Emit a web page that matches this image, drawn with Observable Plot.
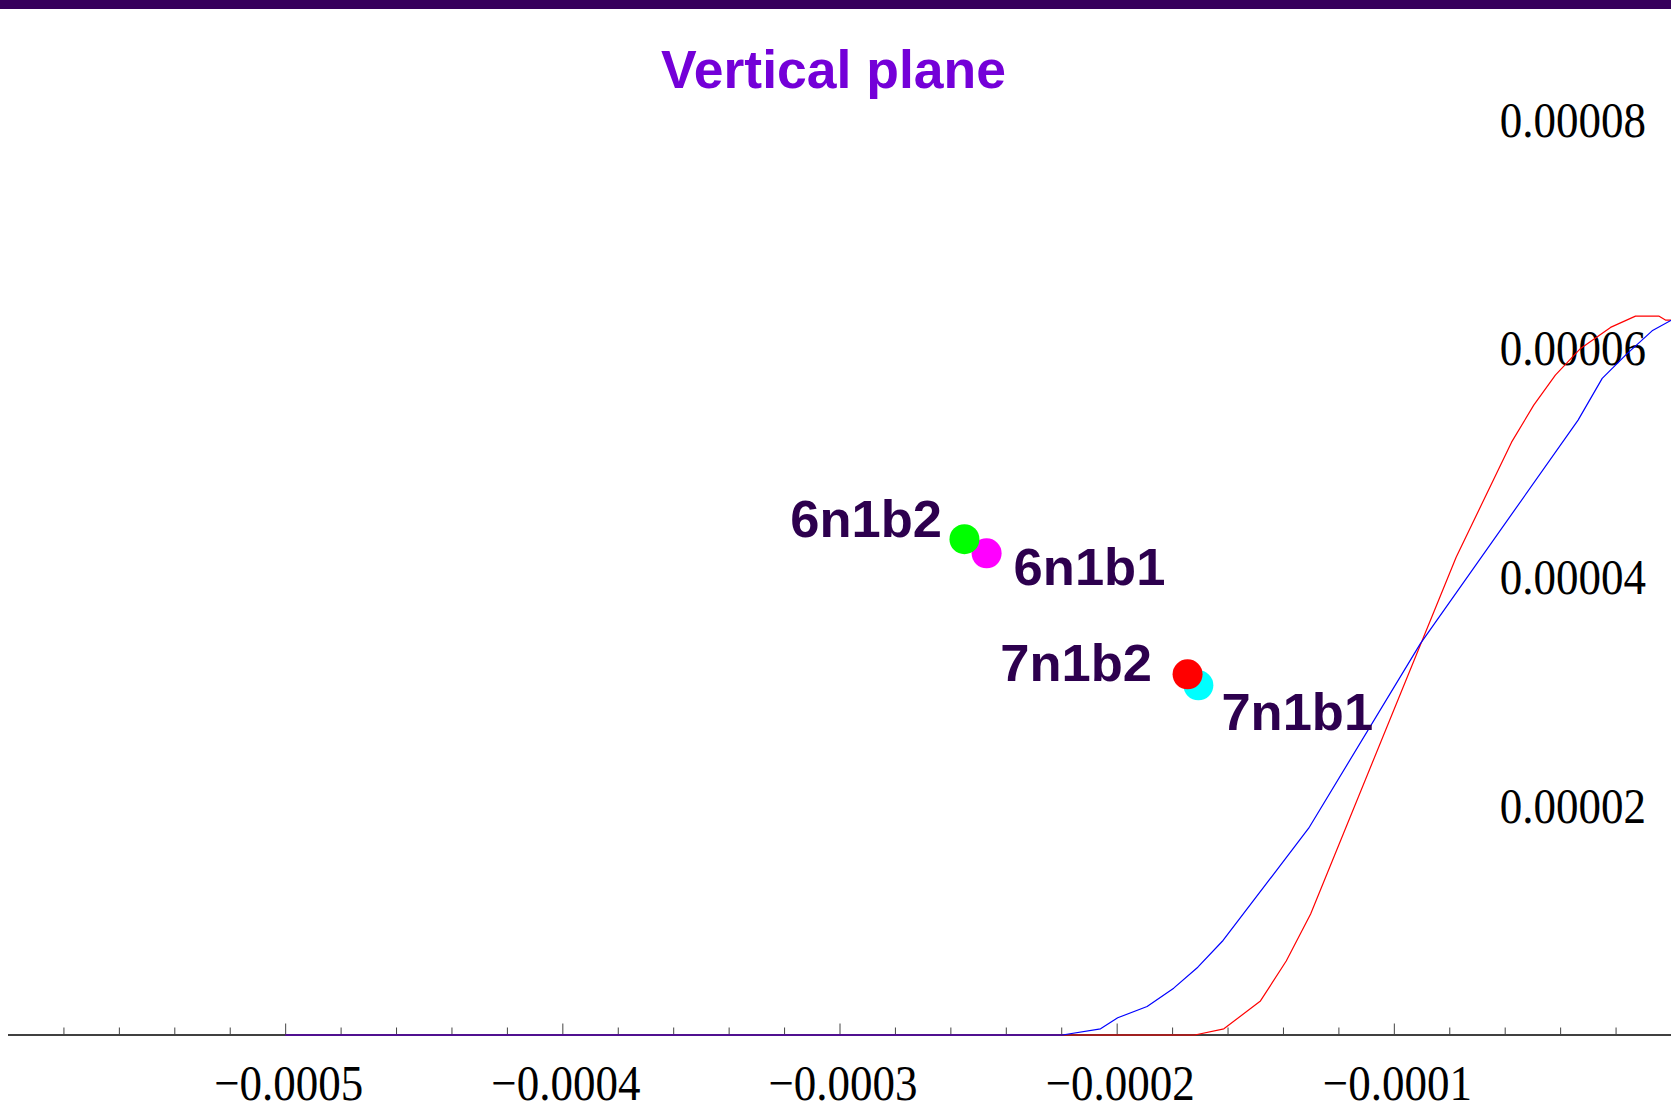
<!DOCTYPE html>
<html><head><meta charset="utf-8">
<script src="https://cdn.jsdelivr.net/npm/d3@7"></script>
<script src="https://cdn.jsdelivr.net/npm/@observablehq/plot@0.6"></script>
<style>
html,body{margin:0;padding:0;background:#fff;}
#wrap{position:relative;width:1671px;height:1101px;overflow:hidden;background:#fff;}
#bar{position:absolute;left:0;top:0;width:1671px;height:9px;background:#37005b;}
#title{position:absolute;left:-2px;top:43px;width:1671px;text-align:center;font-weight:bold;font-size:53.5px;font-family:"Liberation Sans",Arial,sans-serif;line-height:53px;color:#7400d8;white-space:nowrap;}
#chart svg{display:block;}
</style></head><body>
<div id="wrap"><div id="chart"></div><div id="bar"></div><div id="title">Vertical plane</div></div>
<script>
// Points (colored markers) and their names
const pointNames  = ["6n1b1", "6n1b2", "7n1b1", "7n1b2"];
const pointX      = [-2.471e-4, -2.551e-4, -1.707e-4, -1.746e-4];
const pointY      = [4.214e-5, 4.337e-5, 3.059e-5, 3.155e-5];
const pointColors = ["#ff00ff", "#00ff00", "#00ffff", "#ff0000"];

// Blue curve
const blueX = [-0.0005, -2.198e-4, -2.060e-4, -1.998e-4, -1.892e-4, -1.796e-4, -1.709e-4, -1.618e-4, -1.309e-4, -9.06e-5, -3.37e-5, -2.50e-5, -1.62e-5, -7.0e-6, 0];
const blueY = [0, 0, 5.4e-7, 1.51e-6, 2.49e-6, 4.10e-6, 5.93e-6, 8.27e-6, 1.809e-5, 3.424e-5, 5.379e-5, 5.744e-5, 5.956e-5, 6.160e-5, 6.254e-5];

// Red curve
const redX = [-0.0005, -1.720e-4, -1.615e-4, -1.483e-4, -1.390e-4, -1.302e-4, -7.77e-5, -5.77e-5, -4.97e-5, -4.19e-5, -3.28e-5, -2.20e-5, -1.30e-5, -4.6e-6, -2.2e-6, 0];
const redY = [0, 0, 5.4e-7, 2.98e-6, 6.47e-6, 1.059e-5, 4.179e-5, 5.186e-5, 5.510e-5, 5.772e-5, 6.006e-5, 6.190e-5, 6.289e-5, 6.289e-5, 6.254e-5, 6.254e-5];

// Ticks
const xMajorTicks = [-0.0005, -0.0004, -0.0003, -0.0002, -0.0001];
const yTicks = [0.00002, 0.00004, 0.00006, 0.00008];
const xMinorTicks = d3.range(-29, 0).map(k => k * 0.00002).filter(v => Math.abs(Math.round(v / 0.0001) * 0.0001 - v) > 1e-9);

const points = pointNames.map((name, i) => ({name, x: pointX[i], y: pointY[i], color: pointColors[i]}));
const blue = blueX.map((x, i) => ({x, y: blueY[i]}));
const red = redX.map((x, i) => ({x, y: redY[i]}));

const labelStyle = {x: "x", y: "y", text: "name", fontSize: 52.5, fontWeight: "bold",
  fontFamily: "'Liberation Sans', Arial, sans-serif", fill: "#2d004e", lineAnchor: "bottom"};
const pick = n => points.filter(d => d.name === n);

const chart = Plot.plot({
  width: 1671, height: 1101,
  marginLeft: 8, marginRight: 0, marginTop: 120, marginBottom: 66.5,
  x: {domain: [-0.0006, 0]},
  y: {domain: [0, 0.00008]},
  color: {type: "identity"},
  style: {background: "white", overflow: "visible"},
  marks: [
    Plot.ruleY([0], {stroke: "black", strokeWidth: 1.3}),
    Plot.ruleX(xMinorTicks, {x: d => d, y1: 0, y2: 0, insetBottom: 7, stroke: "#444", strokeWidth: 1}),
    Plot.ruleX(xMajorTicks, {x: d => d, y1: 0, y2: 0, insetBottom: 11, stroke: "#444", strokeWidth: 1}),
    Plot.axisX({ticks: xMajorTicks, anchor: "bottom", tickSize: 0, tickPadding: 29, dx: 3,
      tickFormat: d => "\u2212" + (-d).toFixed(4), fontSize: 45,
      fontFamily: "'Liberation Serif', 'Times New Roman', serif", fill: "black", label: null}),
    Plot.axisY({ticks: yTicks, anchor: "right", tickSize: 0, tickPadding: 0, dx: -25.5, textAnchor: "end",
      tickFormat: d => d.toFixed(5), fontSize: 45,
      fontFamily: "'Liberation Serif', 'Times New Roman', serif", fill: "black", label: null}),
    Plot.line(red, {x: "x", y: "y", stroke: "#ff0000", strokeWidth: 1.2}),
    Plot.line(blue, {x: "x", y: "y", stroke: "#0000ff", strokeWidth: 1.2}),
    Plot.dot(points, {x: "x", y: "y", r: 15, fill: "color", stroke: null}),
    Plot.text(pick("6n1b2"), {...labelStyle, textAnchor: "end", dx: -22.5, dy: -2.3}),
    Plot.text(pick("6n1b1"), {...labelStyle, textAnchor: "start", dx: 27, dy: 32}),
    Plot.text(pick("7n1b2"), {...labelStyle, textAnchor: "end", dx: -35.5, dy: 6.7}),
    Plot.text(pick("7n1b1"), {...labelStyle, textAnchor: "start", dx: 23, dy: 44.7})
  ]
});
document.getElementById("chart").appendChild(chart);

// Tick labels in the reference are vertically stretched
chart.querySelectorAll('g[aria-label="x-axis tick label"] text, g[aria-label="y-axis tick label"] text').forEach(t => {
  const tr = t.getAttribute("transform");
  if (tr) t.setAttribute("transform", tr + " scale(1,1.13)");
});
</script>
</body></html>
